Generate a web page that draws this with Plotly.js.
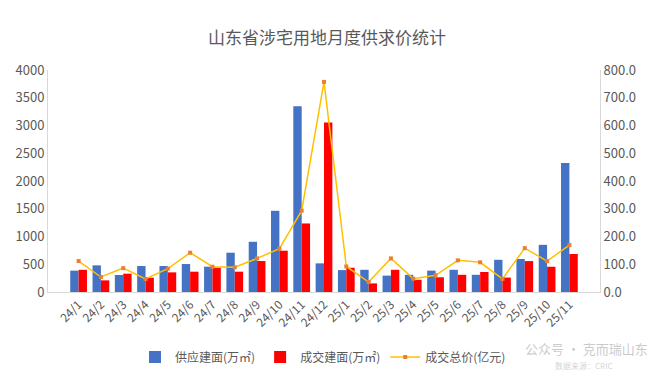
<!DOCTYPE html>
<html>
<head>
<meta charset="utf-8">
<script src="https://cdn.plot.ly/plotly-3.0.1.min.js"></script>
<style>html,body{margin:0;padding:0;background:#fff;}#chart{width:654px;height:370px;}</style>
</head>
<body>
<div id="chart"></div>
<script>
const months = ["24/1","24/2","24/3","24/4","24/5","24/6","24/7","24/8","24/9","24/10","24/11","24/12","25/1","25/2","25/3","25/4","25/5","25/6","25/7","25/8","25/9","25/10","25/11"];
const supplyArea = [385,480,306,468,468,504,456,708,905,1463,3346,516,395,400,295,310,385,400,310,580,595,850,2325];
const dealArea = [400,210,330,258,354,366,438,366,558,744,1235,3052,437,155,400,220,265,310,360,260,557,455,685];
const dealPrice = [111.5,54,86,47,84,141.6,91,89,121,156,293,757,92,36,121,48,60,114,107,47,158,111.5,169];

const fontFam = '"Noto Sans CJK SC", "Noto Sans", sans-serif';
const traces = [
  {type:'bar', name:'供应建面(万㎡)', x:months, y:supplyArea, marker:{color:'#4472C4'}, yaxis:'y'},
  {type:'bar', name:'成交建面(万㎡)', x:months, y:dealArea, marker:{color:'#FF0000'}, yaxis:'y'},
  {type:'scatter', mode:'lines+markers', name:'成交总价(亿元)', x:months, y:dealPrice, yaxis:'y2',
   line:{color:'#FFC000', width:1.5}, marker:{color:'#ED7D31', symbol:'square', size:4}}
];
const layout = {
  width:654, height:370,
  margin:{l:48, r:54, t:70, b:78, autoexpand:false},
  paper_bgcolor:'#fff', plot_bgcolor:'#fff',
  font:{family:fontFam, color:'#595959', size:12},
  title:{text:'山东省涉宅用地月度供求价统计', font:{size:17, color:'#595959', family:fontFam}, x:0.5, xanchor:'center', y:1-38/370, yanchor:'middle'},
  barmode:'group', bargap:0.25, bargroupgap:0,
  showlegend:true,
  legend:{orientation:'h', x:(135-48)/552, xanchor:'left', y:-(357-292)/222, yanchor:'middle', font:{size:12, color:'#595959'}, itemwidth:30, traceorder:'normal'},
  xaxis:{type:'category', tickangle:-45, showgrid:false, showline:true, linecolor:'#D9D9D9', ticks:'', tickfont:{size:12, color:'#595959'}, automargin:false},
  yaxis:{range:[0,4000], dtick:500, showgrid:false, showline:true, linecolor:'#D9D9D9', ticks:'', zeroline:false, tickfont:{size:13, color:'#595959'}, automargin:false},
  yaxis2:{range:[0,800], dtick:100, overlaying:'y', side:'right', tickformat:'.1f', showgrid:false, showline:true, linecolor:'#D9D9D9', ticks:'', zeroline:false, tickfont:{size:13, color:'#595959'}, automargin:false},
  annotations:[
    {text:'公众号 · 克而瑞山东', xref:'paper', yref:'paper', x:(650-48)/552, y:-(348-292)/222, xanchor:'right', yanchor:'middle', showarrow:false, font:{size:13, color:'rgba(150,150,150,0.5)'}},
    {text:'数据来源：CRIC', xref:'paper', yref:'paper', x:(615-48)/552, y:-(365-292)/222, xanchor:'right', yanchor:'middle', showarrow:false, font:{size:8, color:'rgba(170,170,170,0.5)'}}
  ]
};
Plotly.newPlot('chart', traces, layout, {displayModeBar:false, staticPlot:true});
</script>
</body>
</html>
